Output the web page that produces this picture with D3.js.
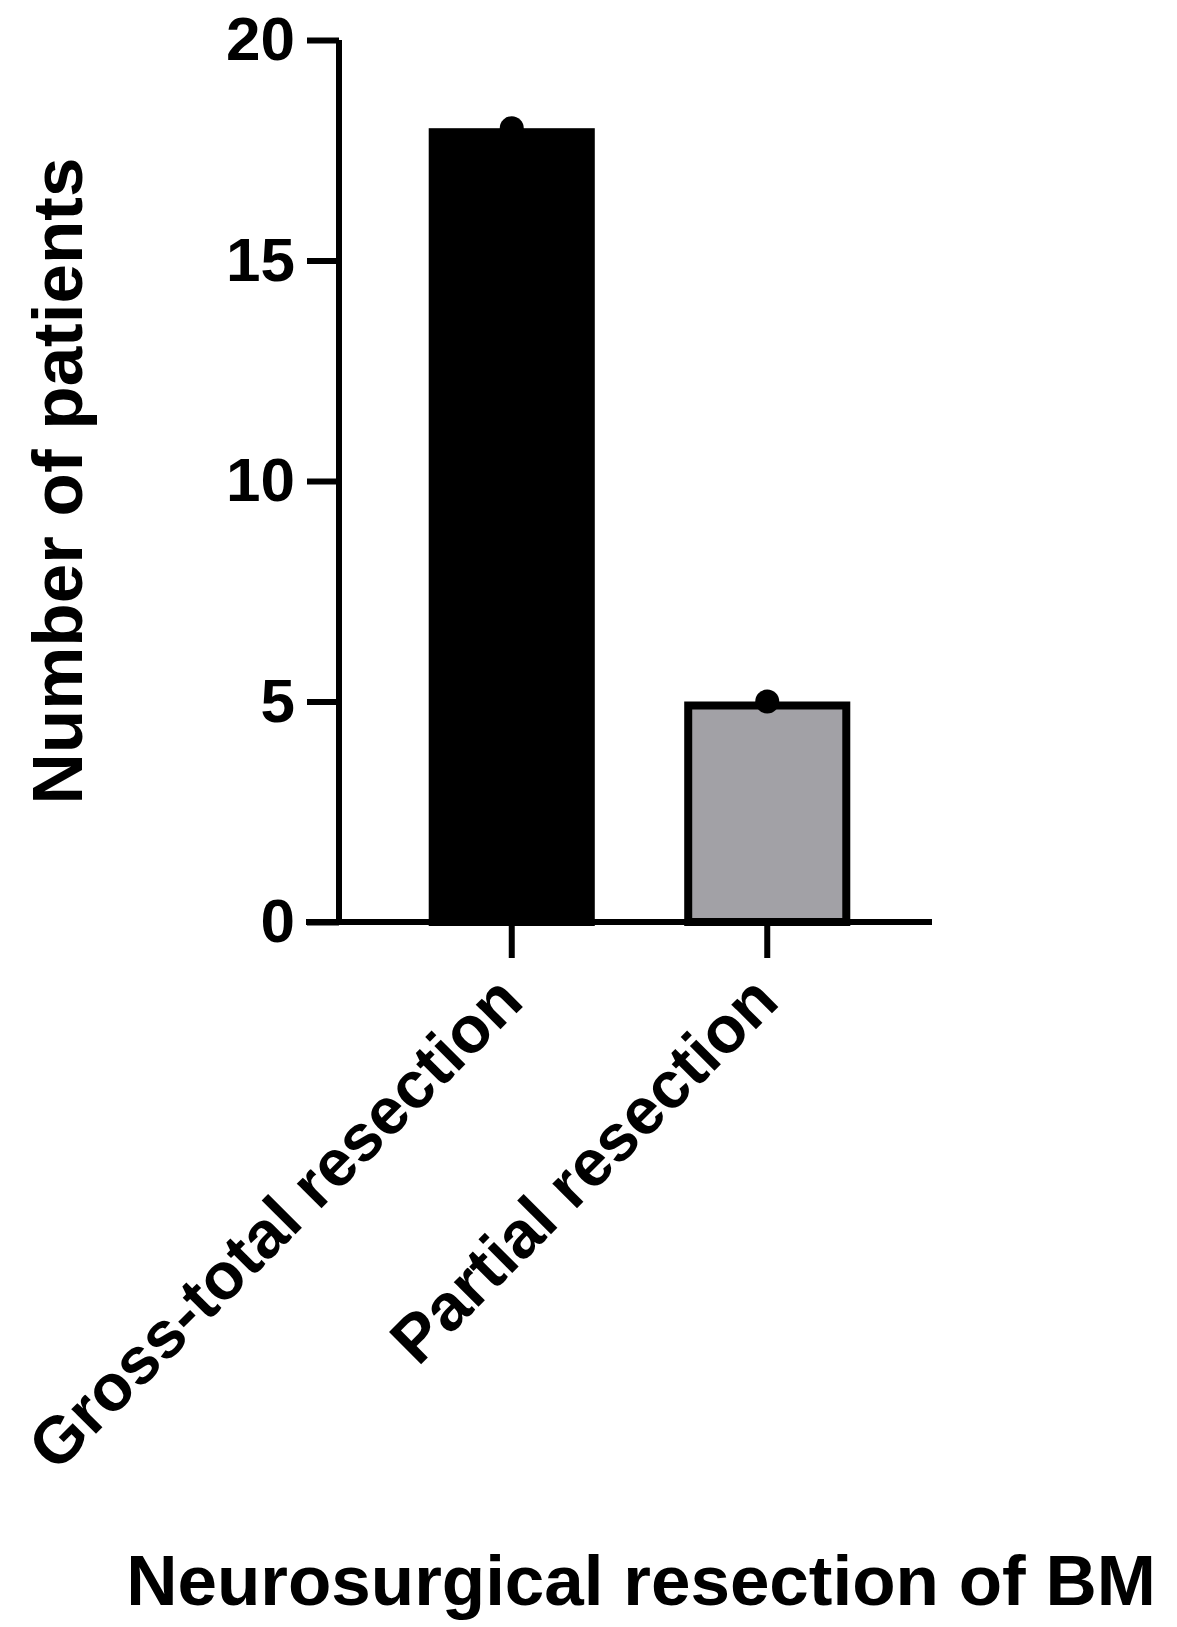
<!DOCTYPE html>
<html>
<head>
<script src="https://cdn.jsdelivr.net/npm/d3@7"></script>
<style>body{margin:0;background:#fff}text{font-family:"Liberation Sans",Arial,sans-serif;font-weight:bold}</style>
</head>
<body>
<div id="chart"></div>
<script>
var categories = ["Gross-total resection", "Partial resection"];
var values = [18, 5];
var fills = ["#000000", "#a2a1a6"];
var yTicks = [0, 5, 10, 15, 20];

var svg = d3.select("#chart").append("svg").attr("width", 1177).attr("height", 1627);

var y = d3.scaleLinear().domain([0, 20]).range([922, 40]);
var x = d3.scaleBand().domain(categories).range([384, 895]).paddingInner(0.35).paddingOuter(0.175);

var g = svg.append("g");

// bars
g.selectAll("rect.bar").data(values).enter().append("rect")
  .attr("x", function(d, i) { return x(categories[i]) + 4; })
  .attr("y", function(d) { return y(d) + 4; })
  .attr("width", x.bandwidth() - 8)
  .attr("height", function(d) { return y(0) - y(d) - 4; })
  .attr("fill", function(d, i) { return fills[i]; })
  .attr("stroke", "#000").attr("stroke-width", 8);

// points
g.selectAll("circle").data(values).enter().append("circle")
  .attr("cx", function(d, i) { return x(categories[i]) + x.bandwidth() / 2; })
  .attr("cy", function(d) { return y(d); })
  .attr("r", 12).attr("fill", "#000");

// y axis
var yAxis = svg.append("g").attr("transform", "translate(339,0)")
  .call(d3.axisLeft(y).tickValues(yTicks).tickSize(32).tickPadding(12));
yAxis.select(".domain").attr("stroke-width", 6).attr("d", "M0," + y(20) + "V" + y(0));
yAxis.selectAll(".tick line").attr("stroke-width", 6);
yAxis.selectAll(".tick text").attr("font-size", 62).attr("fill", "#000").attr("font-family", "Liberation Sans, Arial").attr("font-weight", "bold");

// x axis
var xAxis = svg.append("g").attr("transform", "translate(0," + y(0) + ")")
  .call(d3.axisBottom(x).tickSize(36).tickFormat(""));
xAxis.select(".domain").attr("stroke-width", 6).attr("d", "M306,0H932");
xAxis.selectAll(".tick line").attr("stroke-width", 6);

categories.forEach(function(c) {
  var cx = x(c) + x.bandwidth() / 2 + 14;
  svg.append("text").attr("transform", "translate(" + cx + "," + (y(0) + 82) + ") rotate(-45)")
    .attr("text-anchor", "end").attr("font-size", 66).text(c);
});

svg.append("text").attr("transform", "translate(82,481) rotate(-90)")
  .attr("text-anchor", "middle").attr("font-size", 71).text("Number of patients");

svg.append("text").attr("x", 641).attr("y", 1605)
  .attr("text-anchor", "middle").attr("font-size", 71).text("Neurosurgical resection of BM");
</script>
</body>
</html>
